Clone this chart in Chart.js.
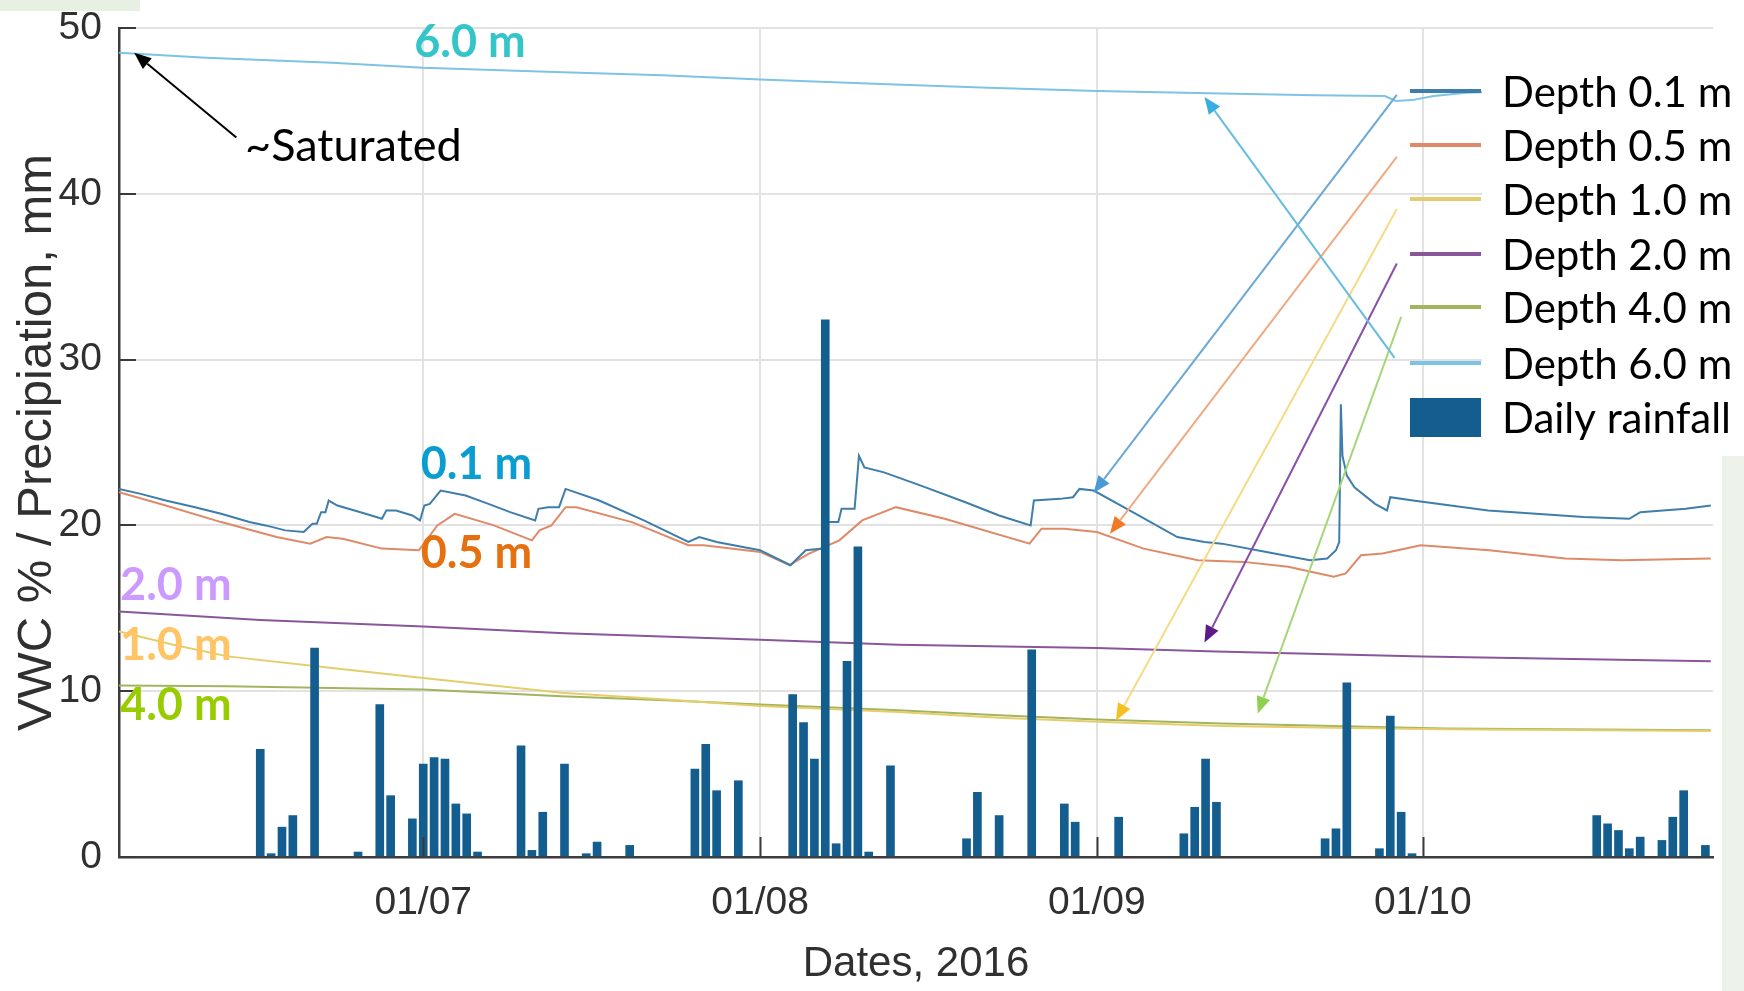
<!DOCTYPE html>
<html>
<head>
<meta charset="utf-8">
<script src="https://cdn.jsdelivr.net/npm/chart.js@4.4.1/dist/chart.umd.min.js"></script>
<style>
  html, body { margin: 0; padding: 0; background: #ffffff; }
  #wrap { position: relative; width: 1744px; height: 991px; overflow: hidden; }
  #panel { position: absolute; left: 1722px; top: 456px; width: 22px; height: 535px; background: #edf2eb; }
  #corner { position: absolute; left: 0; top: 0; width: 140px; height: 11px; background: #e8efe3; }
  canvas { position: absolute; left: 0; top: 0; }
</style>
</head>
<body>
<div id="wrap">
  <div id="panel"></div>
  <div id="corner"></div>
  <canvas id="c" width="1744" height="991"></canvas>
</div>
<script>
// ---- Data (x = days since 1 June 2016) ----
const monthDays   = [30, 61, 92, 122];
const monthLabels = ['01/07', '01/08', '01/09', '01/10'];

const rainDays = [15,16,17,18,20,24,26,27,29,30,31,32,33,34,35,39,40,41,43,45,46,49,55,56,57,59,
  64,65,66,67,68,69,70,71,73,80,81,83,86,89,90,94,100,101,102,103,113,114,115,118,119,120,121,
  138,139,140,141,142,144,145,146,148];
const rainMm = [6.5,0.2,1.8,2.5,12.6,0.3,9.2,3.7,2.3,5.6,6.0,5.9,3.2,2.6,0.3,6.7,0.4,2.7,5.6,0.2,0.9,0.7,5.3,6.8,4.0,4.6,
  9.8,8.1,5.9,32.4,0.8,11.8,18.7,0.3,5.5,1.1,3.9,2.5,12.5,3.2,2.1,2.4,1.4,3.0,5.9,3.3,1.1,1.7,10.5,0.5,8.5,2.7,0.2,
  2.5,2.0,1.6,0.5,1.2,1.0,2.4,4.0,0.7];

const d01Days = [2.0,4.0,6.3,9.0,11.4,14.0,15.5,17.3,19.0,19.8,20.2,20.6,21.0,21.3,22.1,24.7,26.2,26.6,27.5,29.0,29.7,30.1,30.6,31.6,33.9,36.0,38.0,40.3,40.6,41.5,42.5,43.1,46.2,50.3,54.4,55.4,57.0,61.0,63.8,65.2,66.8,67.1,68.2,68.5,69.7,70.1,70.6,72.4,75.8,79.9,83.0,85.9,86.2,88.6,89.8,90.4,91.7,95.3,99.4,101.9,103.5,107.6,111.6,113.2,114.0,114.3,114.45,114.6,115.0,115.7,117.6,118.7,119.0,121.1,128.0,136.8,141.0,142.0,146.2,148.5];
const d01Vals = [22.2,21.9,21.5,21.1,20.7,20.2,20.0,19.7,19.6,20.1,20.1,20.8,20.8,21.5,21.2,20.7,20.4,20.9,20.9,20.6,20.3,21.2,21.3,22.1,21.8,21.3,20.8,20.3,21.0,21.1,21.1,22.2,21.5,20.3,19.0,19.3,19.0,18.5,17.6,18.5,18.6,20.2,20.2,21.0,21.0,24.2,23.5,23.2,22.4,21.4,20.6,20.0,21.5,21.6,21.7,22.2,22.1,20.8,19.3,19.0,18.9,18.4,17.9,18.0,18.5,19.0,27.3,24.2,23.0,22.3,21.3,20.9,21.7,21.5,20.9,20.5,20.4,20.8,21.0,21.2];

const d05Days = [2.0,6.3,11.4,16.5,19.6,21.1,22.6,26.2,29.6,31.3,32.9,36.5,40.0,40.7,41.8,43.1,44.1,49.2,54.4,55.8,61.0,63.7,65.5,68.3,70.4,73.5,78.0,85.8,86.9,89.0,92.0,96.3,101.3,105.5,109.6,111.7,113.8,114.9,116.3,118.3,121.8,128.1,135.1,140.3,148.5];
const d05Vals = [22.0,21.2,20.2,19.3,18.9,19.3,19.2,18.6,18.5,20.0,20.7,20.0,19.1,19.7,20.0,21.1,21.1,20.2,18.8,18.8,18.4,17.6,18.3,19.1,20.3,21.1,20.4,18.9,19.8,19.8,19.6,18.6,17.9,17.8,17.5,17.2,16.9,17.1,18.2,18.3,18.8,18.5,18.0,17.9,18.0];

const d10Days = [2,7,12,21.6,30,42.7,52.3,61,73.7,83,92,103.5,113.7,123.9,148.5];
const d10Vals = [13.6,12.8,12.1,11.4,10.8,9.9,9.5,9.1,8.75,8.4,8.15,7.9,7.8,7.7,7.6];

const d20Days = [2,15,30,43,61,73.7,92,103,122,134.4,148.5];
const d20Vals = [14.8,14.3,13.9,13.5,13.1,12.8,12.6,12.4,12.1,11.95,11.8];

const d40Days = [2,12,21.6,30,42.7,52.3,61,73.7,83,92,103.5,113.7,123.9,148.5];
const d40Vals = [10.35,10.3,10.2,10.1,9.7,9.45,9.2,8.85,8.55,8.3,8.05,7.9,7.75,7.65];

const d60Days = [2,10,21.6,30,42.1,52,61,72.8,82,92,103.5,112,118.5,119.5,121,123,126,135,148.5];
const d60Vals = [48.5,48.2,47.9,47.6,47.35,47.15,46.9,46.6,46.4,46.2,46.05,45.95,45.9,45.6,45.65,45.9,46.1,46.3,46.4];

const seriesLabels = ['Depth 0.1 m','Depth 0.5 m','Depth 1.0 m','Depth 2.0 m','Depth 4.0 m','Depth 6.0 m','Daily rainfall'];
const yTicks = [0,10,20,30,40,50];

// ---- Styles ----
const lineColors = ['#3f7eab', '#de8a68', '#e6cd6c', '#8a569a', '#a2b55e', '#7dc3e3'];
const rainColor = '#135e8e';

const pts = (xs, ys) => xs.map((x, i) => ({ x: x, y: ys[i] }));
const lineSets = [
  pts(d01Days, d01Vals), pts(d05Days, d05Vals), pts(d10Days, d10Vals),
  pts(d20Days, d20Vals), pts(d40Days, d40Vals), pts(d60Days, d60Vals)
];

// annotations in data coordinates
const depthLabels = [
  { t: '6.0 m', x: 34.3, y: 49.14, c: '#33c5c8', align: 'center' },
  { t: '0.1 m', x: 34.9, y: 23.66, c: '#0a9dd2', align: 'center' },
  { t: '0.5 m', x: 34.9, y: 18.29, c: '#e6700f', align: 'center' },
  { t: '2.0 m', x: 2.1,  y: 16.37, c: '#cc99ff', align: 'left' },
  { t: '1.0 m', x: 2.1,  y: 12.75, c: '#ffc465', align: 'left' },
  { t: '4.0 m', x: 2.1,  y: 9.13,  c: '#99cc00', align: 'left' }
];
const arrows = [
  { x0: 12.8,  y0: 43.4,  x1: 3.4,   y1: 48.5,  c: '#000000', h: '#000000' },
  { x0: 119.6, y0: 45.97, x1: 91.7,  y1: 21.97, c: '#6aa8d6', h: '#4b9ad6' },
  { x0: 119.6, y0: 42.23, x1: 93.2,  y1: 19.5,  c: '#f0aa80', h: '#f07a28' },
  { x0: 119.6, y0: 39.08, x1: 93.75, y1: 8.23,  c: '#f3dc84', h: '#f5c020' },
  { x0: 119.6, y0: 35.8,  x1: 101.9, y1: 12.93, c: '#8a50a8', h: '#5e1a88' },
  { x0: 120.0, y0: 32.58, x1: 106.8, y1: 8.65,  c: '#a6d67a', h: '#8fd050' },
  { x0: 119.4, y0: 30.1,  x1: 101.9, y1: 45.84, c: '#66bde0', h: '#3aaee0' }
];

const annot = {
  id: 'annot',
  afterDatasetsDraw(chart) {
    const ctx = chart.ctx, xs = chart.scales.x, ys = chart.scales.y, a = chart.chartArea;
    ctx.save();
    // inward tick marks
    ctx.strokeStyle = '#3a3a3a'; ctx.lineWidth = 2;
    ctx.beginPath();
    monthDays.forEach(v => { const p = Math.round(xs.getPixelForValue(v)) + 0.5; ctx.moveTo(p, a.bottom); ctx.lineTo(p, a.bottom - 20); });
    yTicks.forEach(v => { const p = Math.round(ys.getPixelForValue(v)); ctx.moveTo(a.left, p); ctx.lineTo(a.left + 17, p); });
    ctx.stroke();
    ctx.restore();
  },
  afterDraw(chart) {
    const ctx = chart.ctx, xs = chart.scales.x, ys = chart.scales.y, a = chart.chartArea;
    const X = v => xs.getPixelForValue(v), Y = v => ys.getPixelForValue(v);
    ctx.save();
    // legend text box (white)
    ctx.fillStyle = '#ffffff';
    ctx.fillRect(1482, 56, 262, 394);
    // legend samples and text
    const rowY = [91, 145, 199, 254, 307, 363, 417];
    ctx.lineWidth = 4;
    for (let i = 0; i < 6; i++) {
      ctx.strokeStyle = lineColors[i];
      ctx.beginPath(); ctx.moveTo(1410, rowY[i]); ctx.lineTo(1481, rowY[i]); ctx.stroke();
    }
    ctx.fillStyle = rainColor;
    ctx.fillRect(1410, 398, 71, 39);
    ctx.fillStyle = '#000000';
    ctx.font = '42px Lato, "Open Sans", sans-serif';
    ctx.textAlign = 'left'; ctx.textBaseline = 'middle';
    seriesLabels.forEach((t, i) => ctx.fillText(t, 1502, rowY[i] + 2));

    // arrows
    arrows.forEach(ar => {
      const x0 = X(ar.x0), y0 = Y(ar.y0), x1 = X(ar.x1), y1 = Y(ar.y1);
      const ang = Math.atan2(y1 - y0, x1 - x0), L = 17, W = 7;
      const bx = x1 - L * Math.cos(ang), by = y1 - L * Math.sin(ang);
      ctx.strokeStyle = ar.c; ctx.lineWidth = 2;
      ctx.beginPath(); ctx.moveTo(x0, y0); ctx.lineTo(bx, by); ctx.stroke();
      ctx.fillStyle = ar.h;
      ctx.beginPath();
      ctx.moveTo(x1, y1);
      ctx.lineTo(bx + W * Math.sin(ang), by - W * Math.cos(ang));
      ctx.lineTo(bx - W * Math.sin(ang), by + W * Math.cos(ang));
      ctx.closePath(); ctx.fill();
    });

    // depth labels
    ctx.font = 'bold 45px Lato, "Open Sans", sans-serif';
    ctx.textBaseline = 'middle';
    depthLabels.forEach(l => {
      ctx.fillStyle = l.c; ctx.textAlign = l.align;
      ctx.fillText(l.t, X(l.x), Y(l.y));
    });
    // saturated note
    ctx.fillStyle = '#000000'; ctx.textAlign = 'left';
    ctx.font = '45px Lato, "Open Sans", sans-serif';
    ctx.fillText('~Saturated', X(13.6), Y(42.83));
    ctx.restore();
  }
};

const tickFont = { family: '"Liberation Sans", Arial, sans-serif', size: 39 };

new Chart(document.getElementById('c'), {
  data: {
    datasets: [
      { type: 'bar', label: seriesLabels[6], data: pts(rainDays, rainMm), backgroundColor: rainColor,
        barThickness: 8, order: 0 },
      ...lineSets.map((d, i) => ({
        type: 'line', label: seriesLabels[i], data: d, borderColor: lineColors[i], borderWidth: 2,
        pointRadius: 0, tension: 0, fill: false, order: 1
      }))
    ]
  },
  options: {
    responsive: false, animation: false, devicePixelRatio: 1,
    layout: { padding: { left: 0, right: 31, top: 28, bottom: 0 } },
    plugins: { legend: { display: false }, tooltip: { enabled: false } },
    scales: {
      x: {
        type: 'linear', min: 2, max: 148.7, offset: false,
        afterBuildTicks: s => { s.ticks = monthDays.map(v => ({ value: v })); },
        ticks: { callback: v => monthLabels[monthDays.indexOf(v)], font: tickFont, color: '#303030', padding: 23, maxRotation: 0, autoSkip: false },
        grid: { color: '#e2e2e2', lineWidth: 2, drawTicks: false, offset: false },
        border: { display: true, color: '#3c3c3c', width: 2.5 },
        title: { display: true, text: 'Dates, 2016', color: '#303030',
          font: { family: '"Liberation Sans", Arial, sans-serif', size: 42 }, padding: { top: 0, bottom: 1 } },
        afterFit: s => { s.height = 134; s.paddingLeft = 0; s.paddingRight = 0; }
      },
      y: {
        type: 'linear', min: 0, max: 50,
        afterBuildTicks: s => { s.ticks = yTicks.map(v => ({ value: v })); },
        ticks: { font: tickFont, color: '#303030', padding: 17 },
        grid: { color: '#e2e2e2', lineWidth: 2, drawTicks: false, offset: false },
        border: { display: true, color: '#3c3c3c', width: 2.5 },
        title: { display: true, text: 'VWC % / Precipiation, mm', color: '#303030',
          font: { family: '"Liberation Sans", Arial, sans-serif', size: 49 }, padding: { top: 8, bottom: 0 } },
        afterFit: s => { s.width = 119; s.paddingTop = 0; s.paddingBottom = 0; }
      }
    }
  },
  plugins: [annot]
});
</script>
</body>
</html>
